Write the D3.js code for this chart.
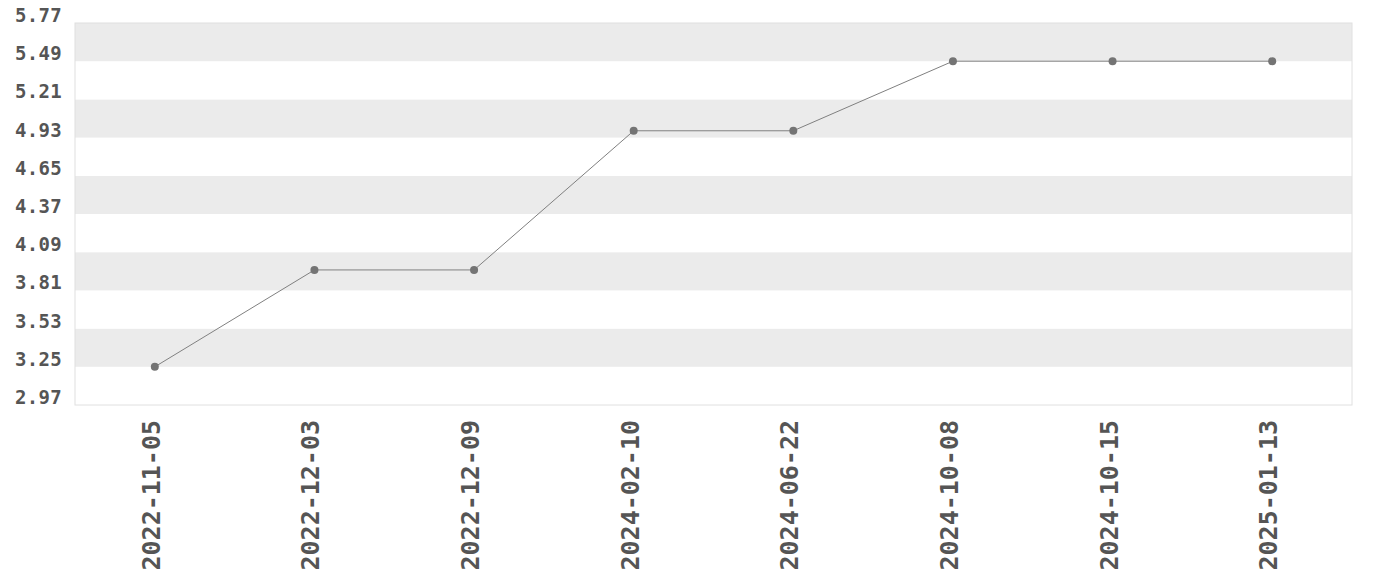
<!DOCTYPE html>
<html>
<head>
<meta charset="utf-8">
<script src="https://cdn.jsdelivr.net/npm/d3@7"></script>
<style>
  body { margin: 0; background: #fff; }
  text { font-family: "DejaVu Sans Mono", monospace; font-weight: bold; fill: #555; }
</style>
</head>
<body>
<div id="chart"></div>
<script>
var dates = ["2022-11-05", "2022-12-03", "2022-12-09", "2024-02-10", "2024-06-22", "2024-10-08", "2024-10-15", "2025-01-13"];
var rates = [3.25, 3.96, 3.96, 4.98, 4.98, 5.49, 5.49, 5.49];

var width = 1380, height = 580;
var margin = { top: 23, right: 28, bottom: 175, left: 75 };
var innerW = width - margin.left - margin.right;
var innerH = height - margin.top - margin.bottom;

var lo = d3.min(rates), hi = d3.max(rates);
var pad = (hi - lo) / 8;
var yMin = lo - pad, yMax = hi + pad;
var step = (yMax - yMin) / 10;
var yTicks = d3.range(11).map(function (i) { return yMin + i * step; });

var svg = d3.select("#chart").append("svg")
  .attr("width", width).attr("height", height);

var g = svg.append("g")
  .attr("transform", "translate(" + margin.left + "," + margin.top + ")");

var x = d3.scalePoint().domain(dates).range([0, innerW]).padding(0.5);
var y = d3.scaleLinear().domain([yMin, yMax]).range([innerH, 0]);

// alternating bands
g.selectAll("rect.band")
  .data(d3.range(10))
  .enter().append("rect")
  .attr("class", "band")
  .attr("x", 0)
  .attr("width", innerW)
  .attr("y", function (i) { return y(yTicks[i + 1]); })
  .attr("height", function (i) { return y(yTicks[i]) - y(yTicks[i + 1]); })
  .attr("fill", function (i) { return i % 2 === 0 ? "#fff" : "#ebebeb"; });

g.append("rect")
  .attr("width", innerW).attr("height", innerH)
  .attr("fill", "none").attr("stroke", "#e0e0e0");

// y labels
g.selectAll("text.ylab")
  .data(yTicks)
  .enter().append("text")
  .attr("class", "ylab")
  .attr("x", -13)
  .attr("y", function (d) { return y(d) - 1; })
  .attr("text-anchor", "end")
  .style("font-size", "19px")
  .style("letter-spacing", "0.3px")
  .text(function (d) { return d.toFixed(2); });

// x labels
g.selectAll("text.xlab")
  .data(dates)
  .enter().append("text")
  .attr("class", "xlab")
  .attr("transform", function (d) { return "translate(" + (x(d) + 5) + "," + (innerH + 15) + ") rotate(-90)"; })
  .attr("text-anchor", "end")
  .style("font-size", "25px")
  .text(function (d) { return d; });

var line = d3.line()
  .x(function (d, i) { return x(dates[i]); })
  .y(function (d) { return y(d); });

g.append("path")
  .datum(rates)
  .attr("d", line)
  .attr("fill", "none")
  .attr("stroke", "#808080")
  .attr("stroke-width", 1);

g.selectAll("circle")
  .data(rates)
  .enter().append("circle")
  .attr("cx", function (d, i) { return x(dates[i]); })
  .attr("cy", function (d) { return y(d); })
  .attr("r", 4)
  .attr("fill", "#747474");
</script>
</body>
</html>
